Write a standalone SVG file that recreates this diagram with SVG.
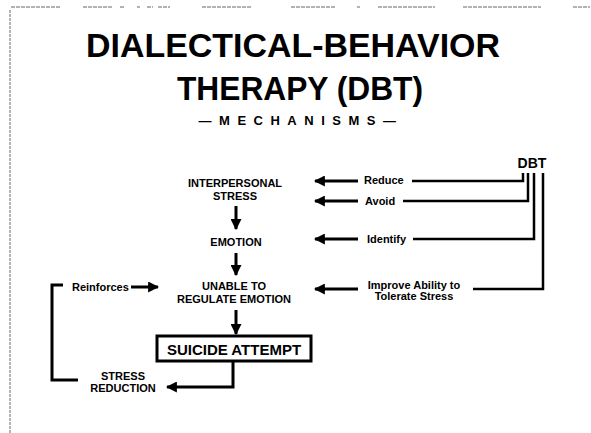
<svg xmlns="http://www.w3.org/2000/svg" width="591" height="433" viewBox="0 0 591 433">
<defs>
<style>
text{font-family:"Liberation Sans",Arial,sans-serif;font-weight:bold;fill:#000}
.t{font-size:11px;text-anchor:middle}
.l{font-size:11px}
.c{fill:none;stroke:#000;stroke-width:3}
.d{fill:none;stroke:#000;stroke-width:2.5}
.scan{fill:none;stroke:#666;stroke-width:1}
</style>
<marker id="ah" viewBox="0 0 10 10" refX="9" refY="5" markerWidth="11" markerHeight="11" orient="auto" markerUnits="userSpaceOnUse">
<path d="M0,0 L10,5 L0,10 z" fill="#000"/>
</marker>
</defs>
<rect width="591" height="433" fill="#fff"/>
<g id="scan">
<path class="scan" d="M10,10 V433" stroke-dasharray="3 1"/>
<path class="scan" d="M11,7 H60 M83,7 H113 M120,7 H125 M137,7 H140 M147,7 H153 M158,7 H170 M202,7 H251 M291,7 H335 M357,7 H360 M378,7 H435 M463,7 H541 M573,7 H590" stroke-dasharray="4 1"/>
</g>
<g id="title">
<text x="293" y="57" font-size="34" text-anchor="middle" textLength="414" lengthAdjust="spacingAndGlyphs">DIALECTICAL-BEHAVIOR</text>
<text x="300" y="100" font-size="34" text-anchor="middle" textLength="246" lengthAdjust="spacingAndGlyphs">THERAPY (DBT)</text>
<text x="301" y="125" font-size="13" text-anchor="middle" letter-spacing="7.5">—MECHANISMS—</text>
</g>
<g id="dbt"><text x="532" y="168" font-size="14" text-anchor="middle">DBT</text></g>
<g id="interpersonal-stress">
<text class="t" x="235" y="187">INTERPERSONAL</text>
<text class="t" x="235" y="200">STRESS</text>
</g>
<g id="emotion"><text class="t" x="236" y="246">EMOTION</text></g>
<g id="unable">
<text class="t" x="234" y="290">UNABLE TO</text>
<text class="t" x="234" y="303">REGULATE EMOTION</text>
</g>
<g id="suicide-attempt">
<rect x="157" y="336" width="154" height="25" fill="#fff" stroke="#000" stroke-width="3"/>
<text x="234" y="355" font-size="15" text-anchor="middle">SUICIDE ATTEMPT</text>
</g>
<g id="stress-reduction">
<text class="t" x="123" y="380">STRESS</text>
<text class="t" x="123" y="392">REDUCTION</text>
</g>
<g id="labels">
<text class="l" x="364" y="184">Reduce</text>
<text class="l" x="365" y="205">Avoid</text>
<text class="l" x="367" y="243">Identify</text>
<text class="t" x="414" y="289">Improve Ability to</text>
<text class="t" x="414" y="300">Tolerate Stress</text>
<text class="l" x="72" y="291">Reinforces</text>
</g>
<g id="connectors">
<path class="c" d="M236,206 V229" marker-end="url(#ah)"/>
<path class="c" d="M236,253 V275" marker-end="url(#ah)"/>
<path class="c" d="M236,310 V334" marker-end="url(#ah)"/>
<path class="c" d="M233,362 V387 H167" marker-end="url(#ah)"/>
<path class="c" d="M63,285 H52 V380 H78"/>
<path class="c" d="M131,287 H158" marker-end="url(#ah)"/>
<path class="c" d="M358,181 H315" marker-end="url(#ah)"/>
<path class="c" d="M358,201 H315" marker-end="url(#ah)"/>
<path class="c" d="M358,239 H315" marker-end="url(#ah)"/>
<path class="c" d="M358,289 H315" marker-end="url(#ah)"/>
<path class="d" d="M412,181 H523 V173"/>
<path class="d" d="M403,201 H528 V173"/>
<path class="d" d="M413,239 H534 V173"/>
<path class="d" d="M473,289 H543 V173"/>
</g>
</svg>
